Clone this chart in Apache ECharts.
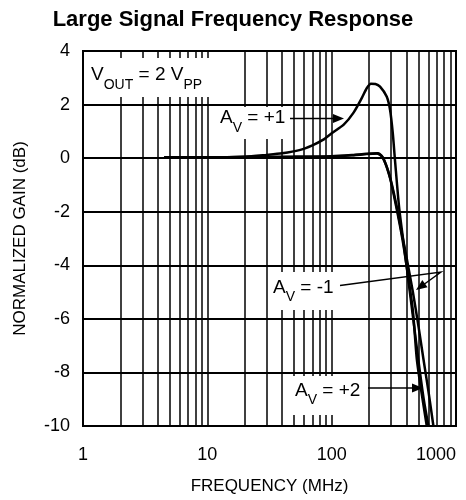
<!DOCTYPE html>
<html>
<head>
<meta charset="utf-8">
<script src="https://cdn.jsdelivr.net/npm/echarts@6/dist/echarts.min.js"></script>
<style>
  html, body { margin: 0; padding: 0; background: #fff; }
  #chart { width: 466px; height: 500px; }
</style>
</head>
<body>
<div id="chart"></div>
<script>
// Frequency (MHz) / normalized gain (dB) pairs for each gain setting
const freqPlus1 = [4.5, 10, 20, 30, 40, 55, 70, 85, 100, 125, 150, 175, 192, 207, 225, 245, 277, 295, 310, 323, 350, 400, 450, 500, 550, 600];
const gainPlus1 = [0.03, 0.03, 0.05, 0.12, 0.18, 0.3, 0.48, 0.68, 0.93, 1.25, 1.7, 2.25, 2.62, 2.78, 2.77, 2.67, 2.3, 1.8, 0.94, -0.07, -1.9, -4.0, -5.9, -7.6, -9.0, -10];

const freqMinus1 = [4.5, 10, 20, 50, 100, 150, 190, 236, 260, 295, 330, 370, 400, 450, 484, 530, 582];
const gainMinus1 = [0.02, 0.03, 0.04, 0.05, 0.07, 0.12, 0.16, 0.18, 0, -0.75, -1.8, -3.0, -4.0, -5.7, -7.5, -8.8, -10];

const freqPlus2 = [4.5, 10, 20, 50, 100, 150, 190, 230, 255, 290, 330, 370, 400, 450, 500, 547, 600, 658];
const gainPlus2 = [0.02, 0.03, 0.04, 0.05, 0.06, 0.11, 0.15, 0.17, 0.05, -0.6, -1.7, -2.9, -3.7, -5.0, -6.3, -7.5, -8.7, -10];

// Intermediate log-decade grid lines
const minorFreqs = [2, 3, 4, 5, 6, 7, 8, 9, 20, 30, 40, 50, 60, 70, 80, 90, 200, 300, 400, 500, 600, 700, 800, 900];

const FONT = '"Liberation Sans", Arial, Helvetica, sans-serif';

function pairs(xs, ys) { return xs.map((x, i) => [x, ys[i]]); }

const chart = echarts.init(document.getElementById('chart'), null, { renderer: 'canvas' });

function curve(name, xs, ys) {
  return {
    name, type: 'line', data: pairs(xs, ys), z: 20,
    smooth: 0.25, showSymbol: false, symbol: 'none',
    lineStyle: { color: '#000', width: 2.5 }, silent: true, animation: false
  };
}

// Arrow helpers: shaft + filled head
function arrowHead(x0, y0, x1, y1) {
  const len = 11, half = 4.5;
  const dx = x1 - x0, dy = y1 - y0, d = Math.hypot(dx, dy);
  const ux = dx / d, uy = dy / d;
  const bx = x1 - ux * len, by = y1 - uy * len;
  return {
    type: 'polygon', z: 40, silent: true,
    shape: { points: [[x1, y1], [bx - uy * half, by + ux * half], [bx + uy * half, by - ux * half]] },
    style: { fill: '#000' }
  };
}
function shaft(points) {
  return { type: 'polyline', z: 40, silent: true, shape: { points }, style: { stroke: '#000', lineWidth: 1.4, fill: null } };
}
function whiteBox(x, y, w, h) {
  return { type: 'rect', z: 10, silent: true, shape: { x, y, width: w, height: h }, style: { fill: '#fff' } };
}
const richStyle = {
  m: { fontSize: 19, fontFamily: FONT, fill: '#000' },
  s: { fontSize: 14, fontFamily: FONT, fill: '#000', padding: [20, 0, 0, 0] }
};
function label(text, x, y) {
  return {
    type: 'text', z: 40, silent: true, x, y,
    style: { text, rich: richStyle, align: 'left', verticalAlign: 'middle', fill: '#000' }
  };
}

const option = {
  animation: false,
  backgroundColor: '#fff',
  title: {
    text: 'Large Signal Frequency Response',
    left: 'center', top: 4,
    textStyle: { fontFamily: FONT, fontSize: 22, fontWeight: 'bold', color: '#000' }
  },
  grid: {
    left: 83, right: 10, top: 51, bottom: 74,
    show: true, borderColor: '#000', borderWidth: 2, backgroundColor: 'transparent'
  },
  xAxis: {
    type: 'log', logBase: 10, min: 1, max: 1000,
    name: 'FREQUENCY (MHz)', nameLocation: 'middle', nameGap: 52,
    nameTextStyle: { fontFamily: FONT, fontSize: 17, color: '#000' },
    axisLine: { show: true, lineStyle: { color: '#000', width: 2 } },
    axisTick: { show: false },
    axisLabel: {
      fontFamily: FONT, fontSize: 18, color: '#000', margin: 20, alignMaxLabel: 'right',
      formatter: v => String(Math.round(v))
    },
    splitLine: { show: true, lineStyle: { color: '#000', width: 1.5 } },
    minorSplitLine: { show: false }
  },
  yAxis: {
    type: 'value', min: -10, max: 4, interval: 2,
    name: 'NORMALIZED GAIN (dB)', nameLocation: 'middle', nameGap: 54,
    nameTextStyle: { fontFamily: FONT, fontSize: 17, color: '#000' },
    axisLine: { show: true, lineStyle: { color: '#000', width: 2 } },
    axisTick: { show: false },
    axisLabel: { fontFamily: FONT, fontSize: 18, color: '#000', margin: 13 },
    splitLine: { show: true, lineStyle: { color: '#000', width: 2 } }
  },
  series: [
    {
      name: 'minor-grid', type: 'line', data: [], z: 1, silent: true, animation: false,
      markLine: {
        silent: true, animation: false, symbol: ['none', 'none'],
        label: { show: false },
        lineStyle: { color: '#000', width: 1.5, type: 'solid' },
        emphasis: { disabled: true },
        data: minorFreqs.map(f => ({ xAxis: f }))
      }
    },
    curve('AV=+1', freqPlus1, gainPlus1),
    curve('AV=-1', freqMinus1, gainMinus1),
    curve('AV=+2', freqPlus2, gainPlus2)
  ],
  graphic: [
    whiteBox(84, 58, 131, 39),
    whiteBox(215, 107, 73, 32),
    whiteBox(270, 272, 68, 38),
    whiteBox(290, 376, 76, 39),
    label('{m|V}{s|OUT}{m| = 2 V}{s|PP}', 91, 75),
    label('{m|A}{s|V}{m| = +1}', 220, 118),
    label('{m|A}{s|V}{m| = -1}', 273, 287.5),
    label('{m|A}{s|V}{m| = +2}', 295, 390.5),
    shaft([[290, 118.5], [335, 118.5]]),
    arrowHead(290, 118.5, 344, 118.5),
    shaft([[340, 285.5], [441, 272], [421, 286.5]]),
    arrowHead(441, 272, 416, 290),
    shaft([[368, 388], [414, 388]]),
    arrowHead(368, 388, 423, 388)
  ]
};

chart.setOption(option);
</script>
</body>
</html>
